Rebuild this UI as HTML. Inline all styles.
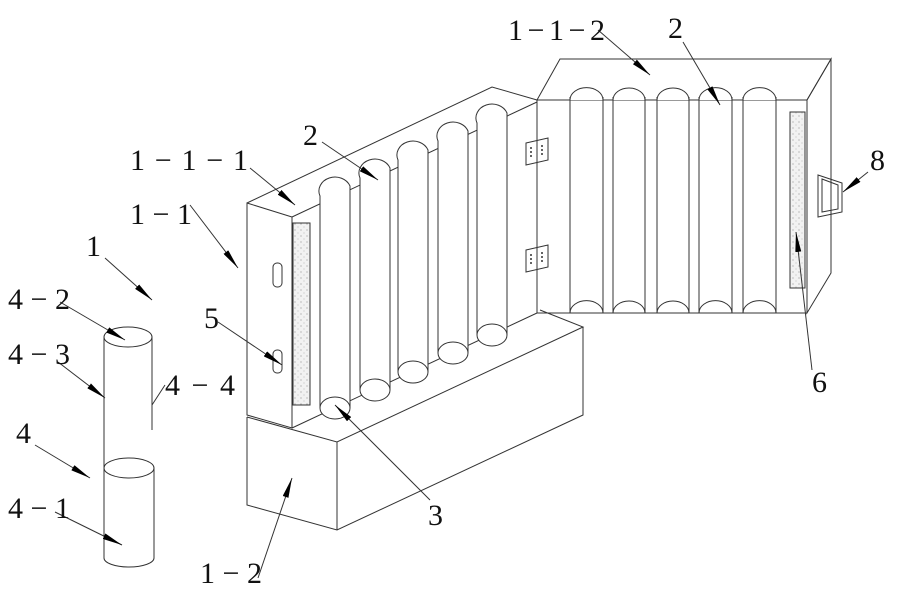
<!DOCTYPE html>
<html><head><meta charset="utf-8"><style>
html,body{margin:0;padding:0;background:#fff}
svg{display:block}
text{font-family:"Liberation Serif",serif;font-size:30px;fill:#111}
</style></head><body>
<svg width="898" height="589" viewBox="0 0 898 589" xmlns="http://www.w3.org/2000/svg">
<defs>
<marker id="a" viewBox="0 0 20 6" refX="20" refY="3" markerWidth="20" markerHeight="6" markerUnits="userSpaceOnUse" orient="auto"><path d="M0,0 L20,3 L0,6 Z" fill="#000"/></marker>
<pattern id="dots" width="6" height="6" patternUnits="userSpaceOnUse"><rect width="6" height="6" fill="#f2f2f2"/><circle cx="1" cy="2" r="0.6" fill="#999"/><circle cx="4" cy="5" r="0.5" fill="#aaa"/></pattern>
</defs>
<g fill="none" stroke="#333" stroke-width="1">
<path d="M247,417 L337,442 L583,327 L540,310 M247,417 L247,505 L337,530 L583,415 L583,327 M337,442 L337,530"/>
<path d="M247,203 L292,217 L292,428 L247,415 Z"/>
<path d="M247,203 L492,87 L537,100 M292,217 L537,102 M292,428 L537,313"/>
<rect x="293" y="223" width="17" height="182" fill="url(#dots)"/>
<rect x="273" y="263" width="9" height="24" rx="4"/>
<rect x="273" y="350" width="9" height="23" rx="4"/>
<g fill="#fff">
<path d="M320,408 L320,196 A15,13 0 0 1 350,186 L350,408"/>
<ellipse cx="335" cy="408" rx="15" ry="11"/>
<path d="M360,390 L360,178 A15,13 0 0 1 390,168 L390,390"/>
<ellipse cx="375" cy="390" rx="15" ry="11"/>
<path d="M398,372 L398,160 A15,13 0 0 1 428,150 L428,372"/>
<ellipse cx="413" cy="372" rx="15" ry="11"/>
<path d="M438,353 L438,141 A15,13 0 0 1 468,131 L468,353"/>
<ellipse cx="453" cy="353" rx="15" ry="11"/>
<path d="M477,335 L477,123 A15,13 0 0 1 507,113 L507,335"/>
<ellipse cx="492" cy="335" rx="15" ry="11"/>
</g>
<path d="M537,100 L560,59 L831,59 L807,100 Z"/>
<path d="M807,100 L831,59 L831,273 L807,313 Z"/>
<path d="M537,100 L537,313 L807,313"/>
<path d="M537,100 L570,100 A16,12 0 0 1 603,100 L613,100 A16,12 0 0 1 645,100 L657,100 A16,12 0 0 1 689,100 L699,100 A16,12 0 0 1 732,100 L743,100 A16,12 0 0 1 776,100 L807,100" fill="#fff"/>
<path d="M570,313 A16,12 0 0 1 603,313 M613,313 A16,12 0 0 1 645,313 M657,313 A16,12 0 0 1 689,313 M699,313 A16,12 0 0 1 732,313 M743,313 A16,12 0 0 1 776,313"/>
<path d="M570,97 V313 M603,97 V313 M613,97 V313 M645,97 V313 M657,97 V313 M689,97 V313 M699,97 V313 M732,97 V313 M743,97 V313 M776,97 V313"/>
<rect x="790" y="112" width="15" height="176" fill="url(#dots)"/>
<path d="M818,175 L842,183 L842,212 L818,217 Z M822,179 L838,185 L838,209 L822,212 Z"/>
<path d="M526,143 L548,138 L548,160 L526,165 Z M526,250 L548,245 L548,267 L526,272 Z"/>
<g fill="#333" stroke="none">
<circle cx="531" cy="148" r="1"/><circle cx="531" cy="152" r="1"/><circle cx="531" cy="156" r="1"/>
<circle cx="542" cy="146" r="1"/><circle cx="542" cy="150" r="1"/><circle cx="542" cy="154" r="1"/>
<circle cx="531" cy="255" r="1"/><circle cx="531" cy="259" r="1"/><circle cx="531" cy="263" r="1"/>
<circle cx="542" cy="253" r="1"/><circle cx="542" cy="257" r="1"/><circle cx="542" cy="261" r="1"/>
</g>
<ellipse cx="128" cy="337" rx="24" ry="10"/>
<path d="M104,337 L104,558 M152,337 L152,430"/>
<ellipse cx="129" cy="468" rx="25" ry="10"/>
<path d="M154,468 L154,558 M104,558 A25,9 0 0 0 154,558"/>
</g>
<g stroke="#333" stroke-width="1" fill="none" marker-end="url(#a)">
<path d="M598,30 L650,75"/>
<path d="M683,42 L720,105"/>
<path d="M322,142 L378,180"/>
<path d="M250,168 L295,205"/>
<path d="M190,205 L238,268"/>
<path d="M105,258 L152,300"/>
<path d="M60,302 L125,340"/>
<path d="M218,322 L282,365"/>
<path d="M58,362 L105,398"/>
<path d="M35,445 L90,478"/>
<path d="M55,512 L122,545"/>
<path d="M430,500 L335,405"/>
<path d="M258,578 L292,478"/>
<path d="M812,370 L796,232"/>
<path d="M868,172 L843,192"/>
</g>
<path d="M165,385 L152,405" stroke="#333"/>
<g>
<text x="508" y="40" textLength="97" lengthAdjust="spacing">1−1−2</text>
<text x="668" y="38">2</text>
<text x="303" y="145">2</text>
<text x="130" y="170" textLength="118" lengthAdjust="spacing">1−1−1</text>
<text x="130" y="224" textLength="62" lengthAdjust="spacing">1−1</text>
<text x="86" y="256">1</text>
<text x="8" y="309" textLength="62" lengthAdjust="spacing">4−2</text>
<text x="204" y="328">5</text>
<text x="8" y="364" textLength="62" lengthAdjust="spacing">4−3</text>
<text x="165" y="395" textLength="70" lengthAdjust="spacing">4−4</text>
<text x="16" y="443">4</text>
<text x="8" y="518" textLength="62" lengthAdjust="spacing">4−1</text>
<text x="428" y="525">3</text>
<text x="200" y="583" textLength="62" lengthAdjust="spacing">1−2</text>
<text x="812" y="392">6</text>
<text x="870" y="170">8</text>
</g>
</svg>
</body></html>
